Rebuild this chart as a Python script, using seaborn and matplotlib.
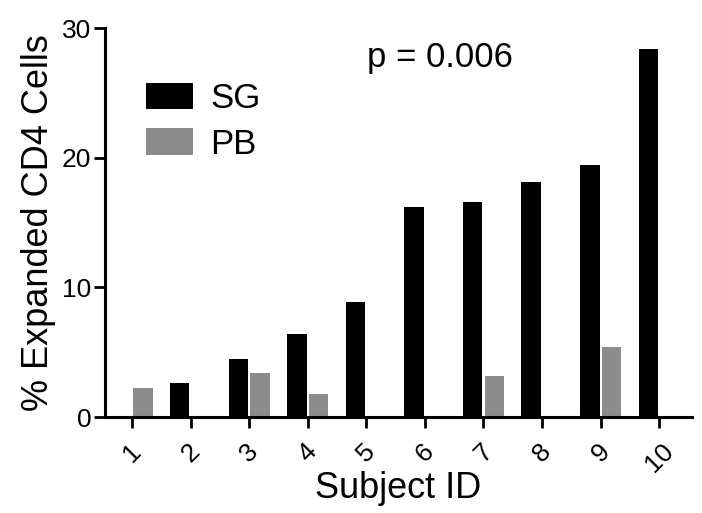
import numpy as np
import pandas as pd
import matplotlib
matplotlib.use('Agg')
import matplotlib.pyplot as plt
import seaborn as sns

# Data (NaN = no bar)
subjects = ['1', '2', '3', '4', '5', '6', '7', '8', '9', '10']
sg_values = [np.nan, 2.6, 4.5, 6.4, 8.9, 16.2, 16.6, 18.1, 19.4, 28.4]
pb_values = [2.2, np.nan, 3.4, 1.8, np.nan, np.nan, 3.2, np.nan, 5.4, np.nan]
groups = ['SG', 'PB']
colors = ['#000000', '#8c8c8c']

df = pd.DataFrame({
    'Subject': subjects * 2,
    'Group': ['SG'] * len(subjects) + ['PB'] * len(subjects),
    'Value': sg_values + pb_values,
})

sns.set_style('ticks')
plt.rcParams['font.family'] = ['Liberation Sans', 'DejaVu Sans']
plt.rcParams['text.color'] = 'black'
plt.rcParams['axes.labelcolor'] = 'black'
plt.rcParams['xtick.color'] = 'black'
plt.rcParams['ytick.color'] = 'black'

fig = plt.figure(figsize=(7.02, 5.13), dpi=100)
ax = fig.add_axes([0.1496, 0.1871, 0.8362, 0.7583])

sns.barplot(data=df, x='Subject', y='Value', hue='Group', order=subjects,
            hue_order=groups, palette=colors, width=0.74, gap=0.1,
            edgecolor=None, linewidth=0, ax=ax)

ax.set_ylim(0, 30)
ax.set_xlim(-0.46, 9.56)
ax.set_yticks([0, 10, 20, 30])

for side in ['top', 'right']:
    ax.spines[side].set_visible(False)
for side in ['left', 'bottom']:
    ax.spines[side].set_linewidth(2.2)
    ax.spines[side].set_color('black')

ax.tick_params(axis='both', which='major', length=8, width=2.0, color='black',
               direction='out', bottom=True, left=True)
ax.tick_params(axis='y', pad=2, labelsize=19)
ax.tick_params(axis='x', pad=8, labelsize=19)
for lbl in ax.get_xticklabels():
    lbl.set_rotation(45)
    lbl.set_ha('center')
    lbl.set_va('top')

ax.set_xlabel('Subject ID', fontsize=26)
ax.xaxis.set_label_coords(0.5, -0.138)
ax.set_ylabel('% Expanded CD4 Cells', fontsize=26, labelpad=4)

ax.text(0.571, 0.923, 'p = 0.006', transform=ax.transAxes, ha='center',
        va='center', fontsize=25)

leg = ax.legend(loc='upper left', bbox_to_anchor=(0.07, 0.86), frameon=False,
                fontsize=25, handlelength=1.35, handleheight=0.78,
                handletextpad=0.5, labelspacing=0.35, borderpad=0,
                borderaxespad=0)

fig.savefig('out.png', dpi=100)
